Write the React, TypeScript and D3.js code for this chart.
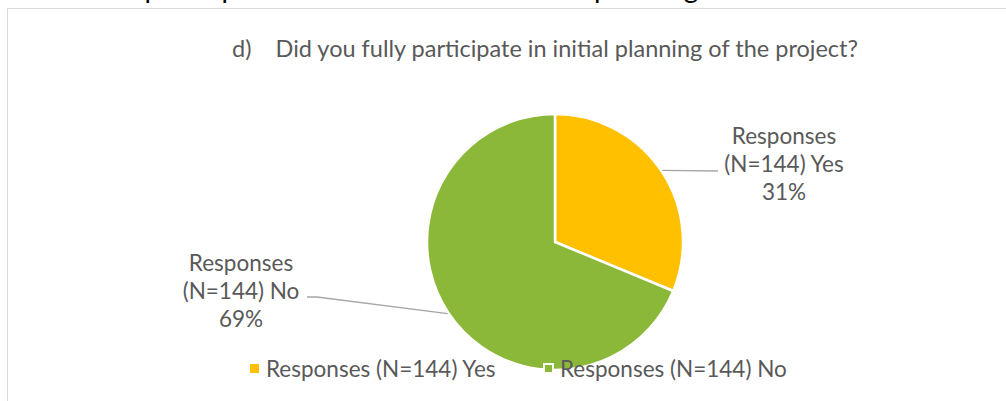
import React from "react";
import * as d3 from "d3";

const categories = ["Responses (N=144) Yes", "Responses (N=144) No"];
const labelLines = [
  ["Responses", "(N=144) Yes"],
  ["Responses", "(N=144) No"],
];
const counts = [45, 99];
const percentLabels = ["31%", "69%"];
const colors = ["#FFC000", "#8CB83A"];

const W = 1006;
const H = 401;
const cx = 555;
const cy = 242;
const radius = 128;
const font = "Lato, 'Open Sans', sans-serif";
const textColor = "#595959";

// label block positions (centre x, first baseline) and leader elbow
const labelPos = [
  { x: 784, y: 144, elbowX: 718, elbowY: 171, endX: 718 },
  { x: 241, y: 271, elbowX: 317, elbowY: 297, endX: 307 },
];

const App = () => {
  const pie = d3
    .pie<number>()
    .sort(null)
    .value((d) => d);
  const arcs = pie(counts);
  const arc = d3.arc<d3.PieArcDatum<number>>().innerRadius(0).outerRadius(radius);

  return (
    <svg
      width={W}
      height={H}
      style={{ position: "absolute", left: 0, top: 0, background: "#fff" }}
    >
      {/* heading from the page above, cut off by the crop */}
      <g fontFamily={font} fontSize={28} fill="#000">
        <text x={42} y={-2}>
          Level of participation of the members in the
        </text>
        <text x={594} y={-2}>
          planning
        </text>
      </g>
      <rect
        x={7.5}
        y={8.5}
        width={W + 20}
        height={H + 20}
        fill="#fff"
        stroke="#D9D9D9"
        strokeWidth={1}
      />
      <text
        x={545}
        y={57}
        textAnchor="middle"
        fontFamily={font}
        fontSize={24}
        fill={textColor}
        textLength={626}
        lengthAdjust="spacingAndGlyphs"
      >
        {"d)\u00a0\u00a0\u00a0\u00a0Did you fully participate in initial planning of the project?"}
      </text>

      <g transform={`translate(${cx},${cy})`}>
        {arcs.map((a, i) => (
          <path
            key={i}
            d={arc(a) || ""}
            fill={colors[i]}
            stroke="#fff"
            strokeWidth={2.5}
            strokeLinejoin="round"
          />
        ))}
      </g>

      {arcs.map((a, i) => {
        const mid = (a.startAngle + a.endAngle) / 2;
        const sx = cx + Math.sin(mid) * (radius + 1);
        const sy = cy - Math.cos(mid) * (radius + 1);
        const p = labelPos[i];
        return (
          <g key={i}>
            <polyline
              points={`${sx},${sy} ${p.elbowX},${p.elbowY} ${p.endX},${p.elbowY}`}
              fill="none"
              stroke="#A6A6A6"
              strokeWidth={1.3}
            />
            <text
              textAnchor="middle"
              fontFamily={font}
              fontSize={22.5}
              fill={textColor}
            >
              {[...labelLines[i], percentLabels[i]].map((t, j) => (
                <tspan key={j} x={p.x} y={p.y + j * 28}>
                  {t}
                </tspan>
              ))}
            </text>
          </g>
        );
      })}

      {/* legend */}
      {categories.map((c, i) => {
        const lx = [250, 544][i];
        return (
          <g key={c}>
            <rect
              x={lx}
              y={364}
              width={9}
              height={9}
              fill={colors[i]}
              stroke="#fff"
              strokeWidth={i === 1 ? 2 : 0}
            />
            <text
              x={lx + 16}
              y={377}
              fontFamily={font}
              fontSize={22.5}
              fill={textColor}
            >
              {c}
            </text>
          </g>
        );
      })}
    </svg>
  );
};

export default App;
